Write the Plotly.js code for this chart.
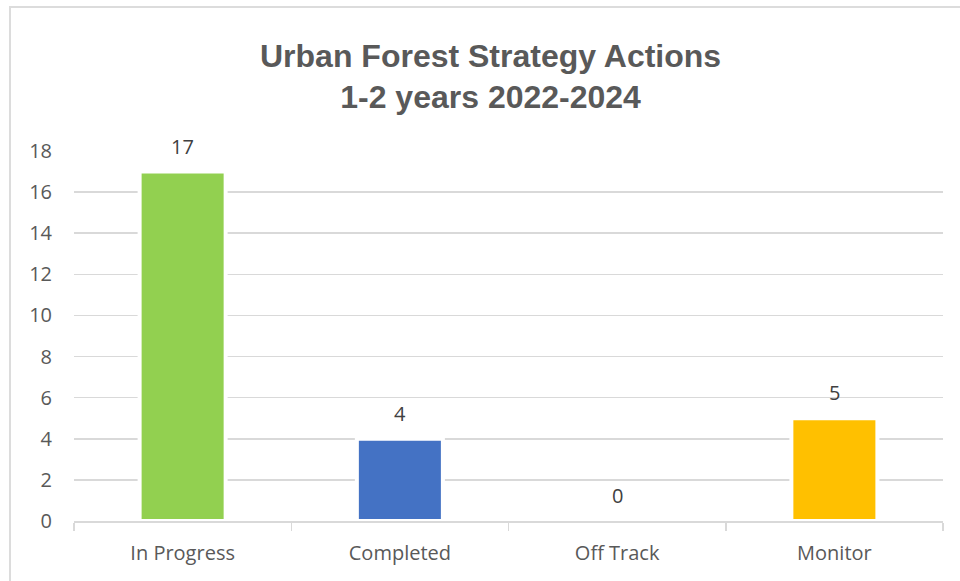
<!DOCTYPE html>
<html>
<head>
<meta charset="utf-8">
<script src="https://cdn.plot.ly/plotly-3.0.1.min.js"></script>
<style>
  html, body { margin: 0; padding: 0; background: #ffffff; }
  #chart { position: absolute; left: 0; top: 0; width: 960px; height: 581px; }
  #frame { position: absolute; left: 9px; top: 6px; width: 960px; height: 600px;
           border-left: 2px solid #dcdcdc; border-top: 2px solid #dcdcdc; pointer-events: none; }
</style>
</head>
<body>
<div id="chart"></div>
<div id="frame"></div>
<script>
// ---- data ----
const categories = ["In Progress", "Completed", "Off Track", "Monitor"];
const actionCounts = [17, 4, 0, 5];
const barColors = ["#92D050", "#4472C4", "#A5A5A5", "#FFC000"];
const yTickValues = [0, 2, 4, 6, 8, 10, 12, 14, 16, 18];
const chartTitle = "Urban Forest Strategy Actions<br>1-2 years 2022-2024";

const labelFont = { family: "Open Sans, sans-serif", size: 20, color: "#404040" };

const trace = {
  type: "bar",
  x: categories,
  y: actionCounts,
  marker: { color: barColors, line: { color: "#ffffff", width: 4 } },
  hoverinfo: "x+y"
};

const annotations = categories.map((c, i) => ({
  x: c,
  y: actionCounts[i],
  xref: "x",
  yref: "y",
  text: String(actionCounts[i]),
  showarrow: false,
  yanchor: "bottom",
  yshift: 10,
  font: labelFont
}));

const layout = {
  width: 960,
  height: 581,
  paper_bgcolor: "#ffffff",
  plot_bgcolor: "#ffffff",
  margin: { l: 74, r: 17, t: 151, b: 60 },
  title: {
    text: chartTitle,
    font: { family: "Liberation Sans, Arial, sans-serif", size: 32, color: "#595959", weight: "bold" },
    x: 0.511,
    xanchor: "center",
    yref: "container",
    y: 0.885,
    yanchor: "top"
  },
  bargap: 0.604,
  showlegend: false,
  xaxis: {
    type: "category",
    showline: true,
    linecolor: "#d9d9d9",
    linewidth: 1.5,
    ticks: "outside",
    tickson: "boundaries",
    ticklen: 8,
    tickwidth: 1.5,
    tickcolor: "#d9d9d9",
    showgrid: false,
    ticklabelstandoff: 13,
    tickfont: { family: "Open Sans, sans-serif", size: 20, color: "#595959" }
  },
  yaxis: {
    range: [0, 18],
    tickvals: yTickValues,
    showgrid: true,
    gridcolor: "#d9d9d9",
    gridwidth: 1.5,
    zeroline: false,
    showline: false,
    ticks: "",
    ticklabelstandoff: 21,
    tickfont: { family: "Open Sans, sans-serif", size: 20, color: "#595959" }
  },
  annotations: annotations
};

Plotly.newPlot("chart", [trace], layout, { displayModeBar: false, staticPlot: true });
</script>
</body>
</html>
